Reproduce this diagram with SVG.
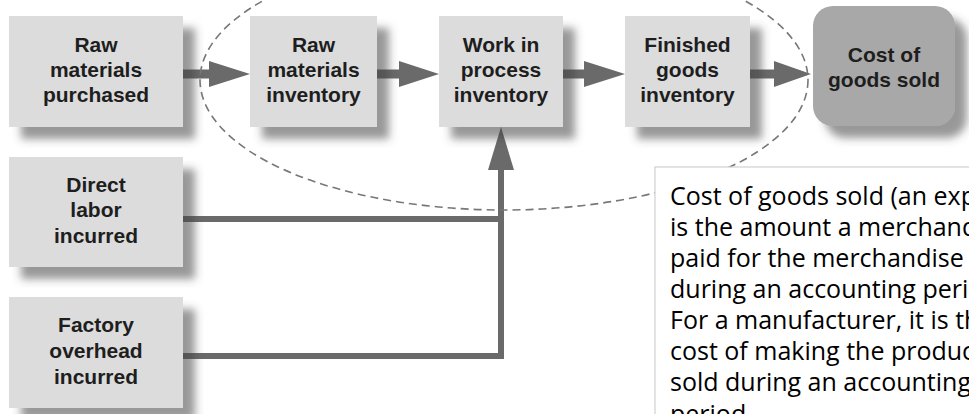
<svg xmlns="http://www.w3.org/2000/svg" width="969" height="414" viewBox="0 0 969 414">
<defs>
<filter id="sh" x="-20%" y="-20%" width="150%" height="160%">
<feDropShadow dx="12" dy="12" stdDeviation="4" flood-color="#444" flood-opacity="0.55"/>
</filter>
<style>
.box{fill:#dcdcdc;filter:url(#sh)}
.cogs{fill:#a8a8a8;filter:url(#sh)}
.lbl{font-family:"Liberation Sans",Arial,sans-serif;font-weight:bold;font-size:21px;fill:#1e1e1e;text-anchor:middle}
.conn{fill:#6a6a6a;stroke:none}
.line{stroke:#6a6a6a;stroke-width:6;fill:none}
.note{font-family:"Open Sans","Noto Sans",sans-serif;font-size:25px;fill:#000}
</style>
</defs>
<rect width="969" height="414" fill="#fff"/>

<g id="connectors">
<polygon class="conn" points="183,69.5 209,69.5 209,61 250,74 209,87 209,78.5 183,78.5"/>
<polygon class="conn" points="377,69.5 399,69.5 399,61 439,74 399,87 399,78.5 377,78.5"/>
<polygon class="conn" points="563,69.5 584,69.5 584,61 625,74 584,87 584,78.5 563,78.5"/>
<polygon class="conn" points="750,69.5 774,69.5 774,61 811,74 774,87 774,78.5 750,78.5"/>
<polyline class="line" points="183,219 501,219"/>
<polyline class="line" points="183,356 501,356 501,168"/>
<polygon class="conn" points="488,170 501,127 514,170"/>
</g>

<g id="n_raw_purchased">
<rect class="box" x="9" y="16" width="174" height="111"/>
<text class="lbl" x="96" y="52">Raw</text>
<text class="lbl" x="96" y="77">materials</text>
<text class="lbl" x="96" y="102">purchased</text>
</g>

<g id="n_raw_inventory">
<rect class="box" x="250" y="16" width="127" height="111"/>
<text class="lbl" x="313.5" y="52">Raw</text>
<text class="lbl" x="313.5" y="77">materials</text>
<text class="lbl" x="313.5" y="102">inventory</text>
</g>

<g id="n_wip">
<rect class="box" x="439" y="16" width="124" height="111"/>
<text class="lbl" x="501" y="52">Work in</text>
<text class="lbl" x="501" y="77">process</text>
<text class="lbl" x="501" y="102">inventory</text>
</g>

<g id="n_finished">
<rect class="box" x="625" y="16" width="125" height="111"/>
<text class="lbl" x="687.5" y="52">Finished</text>
<text class="lbl" x="687.5" y="77">goods</text>
<text class="lbl" x="687.5" y="102">inventory</text>
</g>

<g id="n_cogs">
<rect class="cogs" x="813" y="6" width="142" height="120" rx="20" ry="20"/>
<text class="lbl" x="884" y="62">Cost of</text>
<text class="lbl" x="884" y="87">goods sold</text>
</g>

<g id="n_direct_labor">
<rect class="box" x="9" y="157" width="174" height="110"/>
<text class="lbl" x="96" y="192">Direct</text>
<text class="lbl" x="96" y="217">labor</text>
<text class="lbl" x="96" y="243">incurred</text>
</g>

<g id="n_overhead">
<rect class="box" x="9" y="297" width="174" height="111"/>
<text class="lbl" x="96" y="332">Factory</text>
<text class="lbl" x="96" y="358">overhead</text>
<text class="lbl" x="96" y="384">incurred</text>
</g>

<g id="boundary">
<ellipse cx="504" cy="80" rx="304" ry="130" fill="none" stroke="#777" stroke-width="1.6" stroke-dasharray="8 5"/>
</g>

<g id="note">
<rect x="655" y="167" width="330" height="260" fill="#fff" stroke="#d0d0d0" stroke-width="1.2"/>
<text class="note" x="670" y="205">Cost of goods sold (an expense)</text>
<text class="note" x="670" y="236">is the amount a merchandiser</text>
<text class="note" x="670" y="267">paid for the merchandise sold</text>
<text class="note" x="670" y="298">during an accounting period.</text>
<text class="note" x="670" y="329">For a manufacturer, it is the</text>
<text class="note" x="670" y="360">cost of making the products</text>
<text class="note" x="670" y="391">sold during an accounting</text>
<text class="note" x="670" y="423">period.</text>
</g>
</svg>
